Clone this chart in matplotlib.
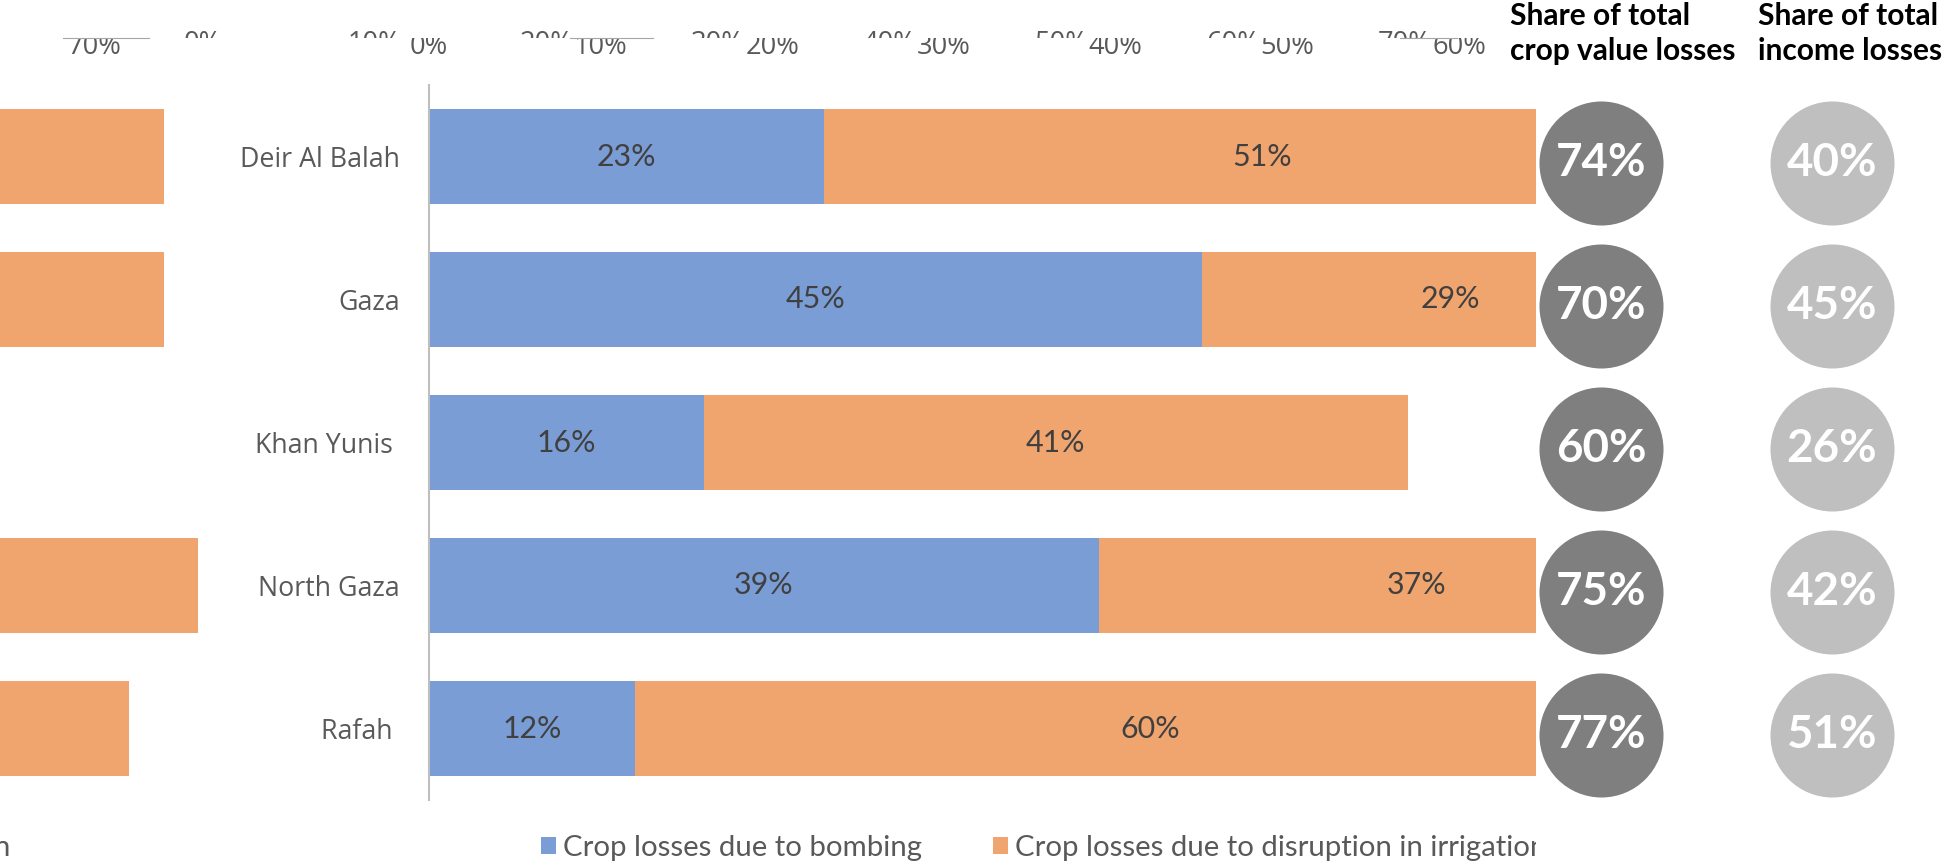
import numpy as np
import matplotlib
matplotlib.use('Agg')
import matplotlib.pyplot as plt
from matplotlib.transforms import Bbox, TransformedBbox, IdentityTransform, blended_transform_factory
from matplotlib.patches import Patch
from matplotlib.lines import Line2D

# data
regions = ['Deir Al Balah', 'Gaza', 'Khan Yunis ', 'North Gaza', 'Rafah ']
bombing = [23, 45, 16, 39, 12]
irrigation = [51, 29, 41, 37, 60]
crop_share = [74, 70, 60, 75, 77]
income_share = [40, 45, 26, 42, 51]
tick_values = [0, 10, 20, 30, 40, 50, 60, 70]
legend_labels = ['Crop losses due to bombing', 'Crop losses due to disruption in irrigation']
headers = ['Share of total\ncrop value losses', 'Share of total\nincome losses']

BLUE = '#7b9dd6'
ORANGE = '#f0a46e'
DARK = '#7f7f7f'
LIGHT = '#bfbfbf'
TXT = '#595959'
CAL = ['Lato', 'DejaVu Sans']        # stands in for Calibri
SEG = ['Open Sans', 'DejaVu Sans']   # stands in for Segoe UI

W, H = 1946, 865
fig = plt.figure(figsize=(W / 100, H / 100), dpi=100)
renderer = fig.canvas.get_renderer()


def rect(left, top, width, height):
    return [left / W, 1 - (top + height) / H, width / W, height / H]


def text_width(text, size, **kw):
    t = fig.text(0, 0, text, fontsize=size, **kw)
    w = t.get_window_extent(renderer).width
    t.remove()
    return w


def fit(text, target_px, **kw):
    # font size (pt) that makes the text target_px wide
    return 20 * target_px / text_width(text, 20, **kw)


fs_tick = fit('0%', 38, family=SEG)
fs_cat = fit('Deir Al Balah', 160, family=SEG)
fs_val = fit('23%', 52, family=CAL) * 1.14
fs_leg = fit(legend_labels[1], 532, family=CAL)
fs_head = fit('crop value losses', 225, family=CAL, fontweight='bold')
fs_circ = fit('74%', 81, family=CAL, fontweight='bold') * 1.12
leg_px = fs_leg * 100 / 72
bomb_w = text_width(legend_labels[0], fs_leg, family=CAL)
col_gap = max(993 - 563 - bomb_w, 20)

PX_PER_PCT = 17.17
AX_LEFT, AX_TOP, AX_H = 429, 85, 715
AX_W = 80 * PX_PER_PCT
CUT = 38  # the pasted chart copies meet at this row

clip_lower = TransformedBbox(Bbox.from_extents(0, 0, W, H - CUT), IdentityTransform())
clip_upper = TransformedBbox(Bbox.from_extents(0, H - CUT, W, H), IdentityTransform())


def top_labels(ax, clip, ypos):
    tr = blended_transform_factory(ax.transData, ax.transAxes)
    for v in tick_values:
        t = ax.text(v, ypos, f'{v}%', transform=tr, ha='center', va='center',
                    fontsize=fs_tick, color=TXT, family=SEG)
        t.set_clip_box(clip)
        t.set_clip_on(True)


def draw_chart(ax):
    y = np.arange(len(regions))
    b1 = ax.barh(y, bombing, height=0.67, color=BLUE)
    b2 = ax.barh(y, irrigation, left=bombing, height=0.67, color=ORANGE)
    ax.bar_label(b1, labels=[f'{v}%' for v in bombing], label_type='center',
                 fontsize=fs_val, color='#404040', family=CAL)
    ax.bar_label(b2, labels=[f'{v}%' for v in irrigation], label_type='center',
                 fontsize=fs_val, color='#404040', family=CAL)
    ax.set_xlim(0, 80)
    ax.set_ylim(len(regions) - 0.5, -0.5)
    ax.set_yticks(y, regions)
    ax.tick_params(axis='y', length=0, pad=21, labelsize=fs_cat, labelcolor=TXT)
    for lab in ax.get_yticklabels():
        lab.set_family(SEG)
    ax.set_xticks([])
    for s in ['top', 'right', 'bottom']:
        ax.spines[s].set_visible(False)
    ax.spines['left'].set_color('#bfbfbf')
    ax.spines['left'].set_linewidth(1.5)
    ax.patch.set_alpha(0)
    top_labels(ax, clip_lower, 1.053)
    handles = [Patch(facecolor=BLUE), Patch(facecolor=ORANGE)]
    ax.legend(handles, legend_labels, loc='center left', bbox_to_anchor=(0.0815, -0.067),
              ncol=2, frameon=False, prop={'family': CAL, 'size': fs_leg},
              labelcolor=TXT, handlelength=15 / leg_px, handleheight=15 / leg_px,
              handletextpad=7 / leg_px, columnspacing=col_gap / leg_px,
              borderpad=0, borderaxespad=0)


# copy of the axis labels peeking above the chart
ax_bg = fig.add_axes(rect(AX_LEFT - 226, AX_TOP, AX_W, AX_H), zorder=0)
ax_bg.set_xlim(0, 80)
ax_bg.axis('off')
top_labels(ax_bg, clip_upper, 1.0575)

# copy of the chart shifted left, its right end shows at the edge
ax_ghost = fig.add_axes(rect(AX_LEFT - 1536, AX_TOP, AX_W, AX_H), zorder=1)
draw_chart(ax_ghost)

ax = fig.add_axes(rect(AX_LEFT, AX_TOP, AX_W, AX_H), zorder=2)
draw_chart(ax)

for x0, x1 in [(63, 149), (570, 653), (1400, 1457)]:
    fig.add_artist(Line2D([x0 / W, x1 / W], [1 - CUT / H] * 2, transform=fig.transFigure,
                          color='#a6a6a6', lw=0.8, zorder=3))

# circle panel on the right
ax_p = fig.add_axes(rect(1536, 0, W - 1536, H), zorder=5)
ax_p.set_facecolor('white')
ax_p.set_xticks([])
ax_p.set_yticks([])
for s in ax_p.spines.values():
    s.set_visible(False)
ax_p.set_xlim(0, 1)
ax_p.set_ylim((H - 163) / 143, -163 / 143)
yy = np.arange(len(regions))
ax_p.scatter(np.full(len(yy), 0.159), yy, s=7974, color=DARK, linewidths=0)
ax_p.scatter(np.full(len(yy), 0.722), yy, s=7974, color=LIGHT, linewidths=0)
for i in range(len(regions)):
    ax_p.text(0.159, yy[i], f'{crop_share[i]}%', ha='center', va='center',
              color='white', fontsize=fs_circ, fontweight='bold', family=CAL)
    ax_p.text(0.722, yy[i], f'{income_share[i]}%', ha='center', va='center',
              color='white', fontsize=fs_circ, fontweight='bold', family=CAL)
for hx, h in zip([-0.063, 0.541], headers):
    ax_p.text(hx, 0.998, h, transform=ax_p.transAxes, ha='left', va='top',
              fontsize=fs_head, fontweight='bold', color='black', family=CAL,
              linespacing=1.3)

fig.savefig('out.png', dpi=100)
